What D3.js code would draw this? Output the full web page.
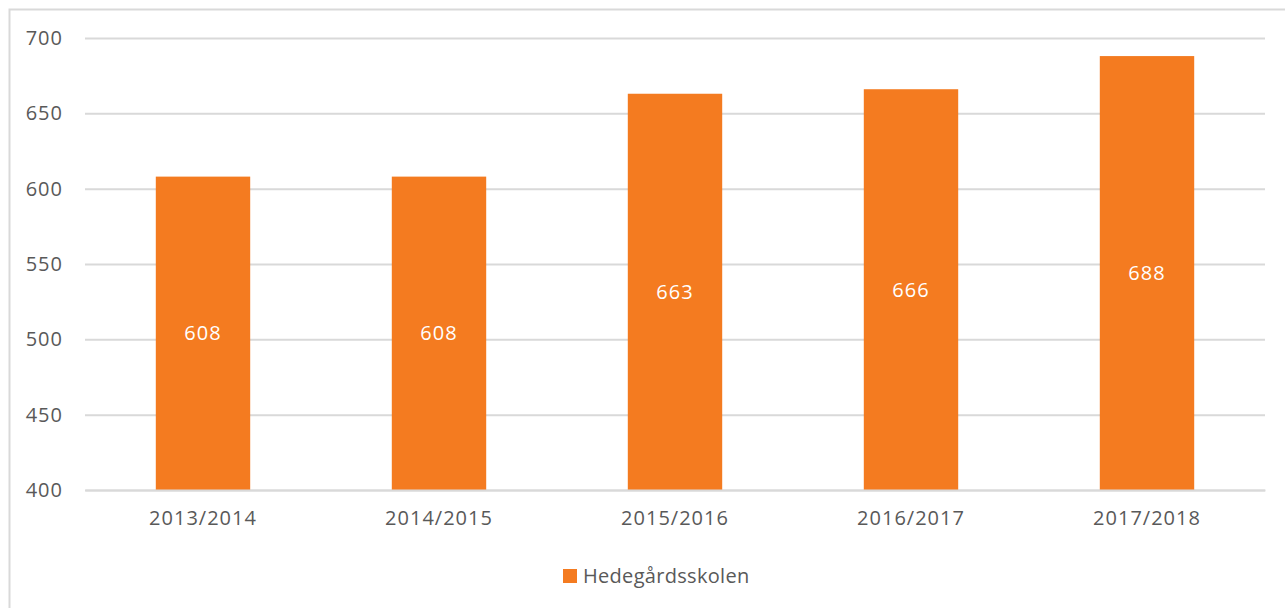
<!DOCTYPE html>
<html>
<head>
<meta charset="utf-8">
<script src="https://cdn.jsdelivr.net/npm/d3@7"></script>
<style>
    body { margin: 0; background: #fff; }
    svg text { font-family: "Open Sans", sans-serif; fill: #595959; letter-spacing: 1px; }
    svg .legend text { letter-spacing: 0.3px; }
</style>
</head>
<body>
<svg class="main" width="1285" height="608"></svg>
<script>
var categories = ["2013/2014", "2014/2015", "2015/2016", "2016/2017", "2017/2018"],
    values = [608, 608, 663, 666, 688],
    yTicks = [400, 450, 500, 550, 600, 650, 700],
    seriesName = "Hedegårdsskolen";

var plot = {
        left: 85,
        right: 1265,
        top: 38,
        bottom: 490
    },
    fontSize = 20,
    barColor = "#f47b20",
    gridColor = "#d9d9d9",
    main = d3.select(".main");

// chart frame, runs off the right and bottom edges
main.append("rect")
    .attr("x", 9.5)
    .attr("y", 9.5)
    .attr("width", 1400)
    .attr("height", 800)
    .attr("fill", "none")
    .attr("stroke", gridColor)
    .attr("stroke-width", 2);

var x = d3.scaleBand()
    .domain(categories)
    .range([plot.left, plot.right])
    .paddingInner(0.6)
    .paddingOuter(0.3);

var y = d3.scaleLinear()
    .domain([400, 700])
    .range([plot.bottom, plot.top]);

// grid + y labels
var yAxis = main.append("g")
    .attr("transform", "translate(" + plot.left + ",0)")
    .call(d3.axisLeft(y).tickValues(yTicks).tickSize(-(plot.right - plot.left)).tickPadding(22));
yAxis.select(".domain").remove();
yAxis.selectAll(".tick line").attr("stroke", gridColor).attr("stroke-width", 2);
yAxis.selectAll(".tick text")
    .style("font-size", fontSize + "px")
    .attr("fill", "#595959");

// bars
main.append("g").selectAll("rect")
    .data(values).enter()
    .append("rect")
    .attr("x", function(d, i) { return x(categories[i]); })
    .attr("width", x.bandwidth())
    .attr("y", function(d) { return y(d); })
    .attr("height", function(d) { return y(400) - y(d); })
    .attr("fill", barColor);

// value labels, centred in bar
main.append("g").selectAll("text")
    .data(values).enter()
    .append("text")
    .attr("x", function(d, i) { return x(categories[i]) + x.bandwidth() / 2; })
    .attr("y", function(d) { return (y(d) + y(400)) / 2; })
    .attr("dy", "0.35em")
    .attr("text-anchor", "middle")
    .style("font-size", fontSize + "px")
    .style("fill", "#ffffff")
    .text(function(d) { return d; });

// x labels
var xAxis = main.append("g")
    .attr("transform", "translate(0," + plot.bottom + ")")
    .call(d3.axisBottom(x).tickSize(0).tickPadding(21));
xAxis.select(".domain")
    .attr("stroke", gridColor)
    .attr("stroke-width", 2);
xAxis.selectAll(".tick text")
    .style("font-size", fontSize + "px")
    .attr("fill", "#595959");

// legend
var legend = main.append("g").classed("legend", 1).attr("transform", "translate(563,569)");
legend.append("rect")
    .attr("width", 14)
    .attr("height", 14)
    .attr("fill", barColor);
legend.append("text")
    .attr("x", 20)
    .attr("y", 7)
    .attr("dy", "0.35em")
    .style("font-size", fontSize + "px")
    .text(seriesName);
</script>
</body>
</html>
